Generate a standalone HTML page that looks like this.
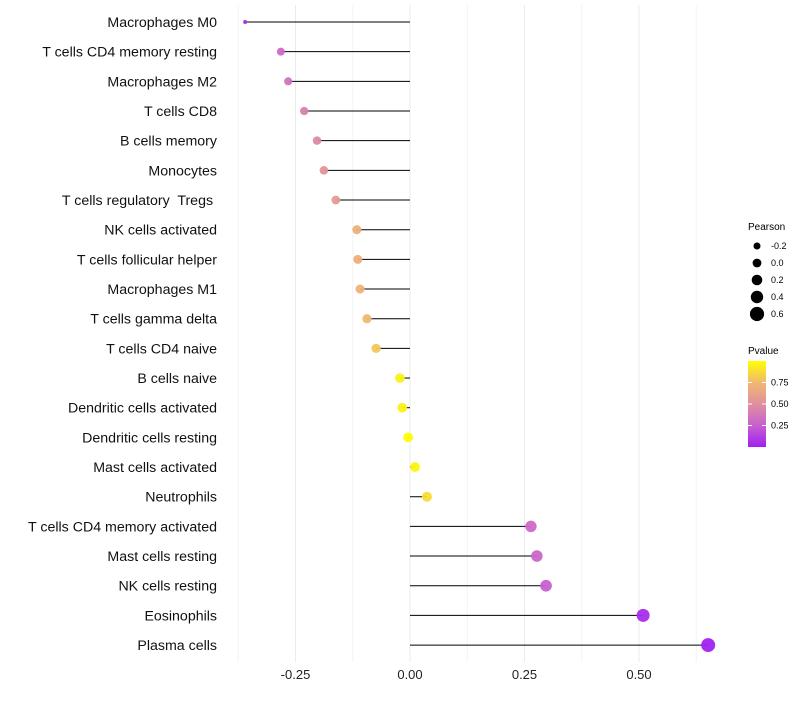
<!DOCTYPE html>
<html><head><meta charset="utf-8"><style>
body{margin:0;background:#fff;font-family:"Liberation Sans",sans-serif}
</style></head><body>
<svg id="chart" width="800" height="700" xmlns="http://www.w3.org/2000/svg">
<defs><linearGradient id="pg" x1="0" y1="1" x2="0" y2="0">
<stop offset="0" stop-color="#a020f0"/><stop offset="0.25" stop-color="#c860d0"/><stop offset="0.5" stop-color="#e0909e"/><stop offset="0.75" stop-color="#f0b870"/><stop offset="1" stop-color="#ffff00"/></linearGradient></defs>
<g id="grid"></g><g id="marks"></g><g id="labels"></g>
<g font-size="9" fill="#000">
<text x="748" y="230" font-size="10">Pearson</text>
<g id="sizeLegend"></g>
<text x="748" y="354" font-size="10">Pvalue</text>
<rect x="748" y="361" width="18" height="86" fill="url(#pg)"/>
<g id="colorTicks"></g>
</g>
</svg>
<script>
const cells=["Macrophages M0","T cells CD4 memory resting","Macrophages M2","T cells CD8","B cells memory","Monocytes","T cells regulatory\u00a0 Tregs\u00a0","NK cells activated","T cells follicular helper","Macrophages M1","T cells gamma delta","T cells CD4 naive","B cells naive","Dendritic cells activated","Dendritic cells resting","Mast cells activated","Neutrophils","T cells CD4 memory activated","Mast cells resting","NK cells resting","Eosinophils","Plasma cells"];
const pearson=[-0.36,-0.282,-0.266,-0.231,-0.203,-0.188,-0.162,-0.116,-0.114,-0.109,-0.094,-0.074,-0.022,-0.017,-0.004,0.011,0.037,0.264,0.277,0.297,0.509,0.651];
const pvalues=[0.05,0.3,0.35,0.42,0.47,0.52,0.57,0.7,0.7,0.72,0.75,0.8,0.95,0.95,0.99,0.97,0.88,0.3,0.28,0.25,0.05,0.01];
const xTicks=[-0.25,0,0.25,0.5];
const xTickLabels=["-0.25","0.00","0.25","0.50"];
const sizeBreaks=[-0.2,0,0.2,0.4,0.6];
const colorBreaks=[0.25,0.5,0.75];
const colorBreakLabels=["0.25","0.50","0.75"];
const NS="http://www.w3.org/2000/svg";
const xs=v=>410+v*458;
const ys=i=>22+i*29.67;
const rs=v=>v<-0.32?2:4+3.2*(v+0.28);
const stops=[[0,[160,32,240]],[0.25,[200,96,208]],[0.5,[224,144,158]],[0.75,[240,184,112]],[1,[255,255,0]]];
function col(p){for(let i=1;i<stops.length;i++){if(p<=stops[i][0]){const a=stops[i-1],b=stops[i],t=(p-a[0])/(b[0]-a[0]);return "rgb("+a[1].map((c,k)=>Math.round(c+(b[1][k]-c)*t)).join(",")+")";}}return "rgb(255,255,0)";}
function el(t,a,p){const e=document.createElementNS(NS,t);for(const k in a)e.setAttribute(k,a[k]);p.appendChild(e);return e;}
const grid=document.getElementById('grid'),marks=document.getElementById('marks'),labels=document.getElementById('labels');
for(let v=-0.375;v<=0.7;v+=0.125){const g=el('line',{x1:xs(v),x2:xs(v),y1:5,y2:662,stroke:Math.abs((v*4)%1)<1e-6?'#ebebeb':'#f3f3f3','stroke-width':1},grid);

}
xTicks.forEach((v,i)=>{const t=el('text',{x:xs(v),y:679,'text-anchor':'middle','font-size':13,fill:'#222'},labels);t.textContent=xTickLabels[i];

});
cells.forEach((c,i)=>{const y=ys(i);
const t=el('text',{x:217,y:y+5,'text-anchor':'end','font-size':14.2,fill:'#111'},labels);t.textContent=c;


const l=el('line',{x1:xs(0),x2:xs(pearson[i]),y1:y,y2:y,stroke:'#000','stroke-width':1},marks);


const p=el('circle',{cx:xs(pearson[i]),cy:y,r:rs(pearson[i]),fill:col(pvalues[i]),'fill-opacity':0.95},marks);

});
const sl=document.getElementById('sizeLegend');
sizeBreaks.forEach((v,i)=>{const y=246+i*17;const c=el('circle',{cx:757,cy:y,r:3.5+i*0.9,fill:'#000'},sl);


const t=el('text',{x:771,y:y+3,'font-size':9},sl);t.textContent=v===0?"0.0":String(v);

});
const ct=document.getElementById('colorTicks');
colorBreaks.forEach((v,i)=>{const y=447-v*86;el('line',{x1:748,x2:752,y1:y,y2:y,stroke:'#fff'},ct);el('line',{x1:762,x2:766,y1:y,y2:y,stroke:'#fff'},ct);
const t=el('text',{x:771,y:y+3,'font-size':9},ct);t.textContent=colorBreakLabels[i];

});
</script>
</body></html>
